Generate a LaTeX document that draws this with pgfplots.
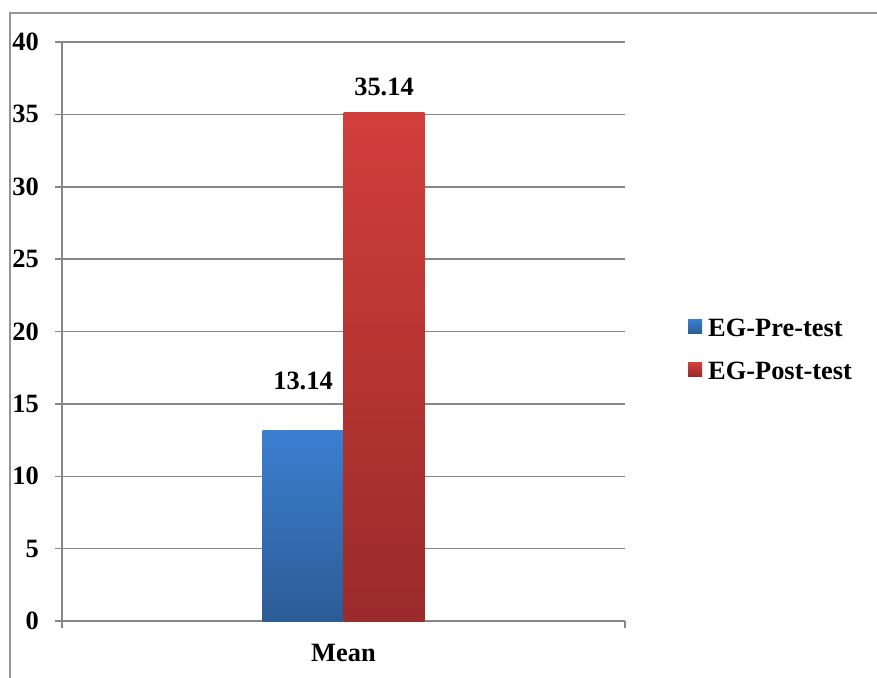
\documentclass[border=0pt]{standalone}
\usepackage{fontspec}
\setmainfont{Liberation Serif}
\usepackage{pgfplots}
\pgfplotsset{compat=1.18}
\pgfkeys{/pgf/number format/assume math mode=true}

\definecolor{gridgray}{RGB}{134,134,134}
\definecolor{framegray}{RGB}{150,150,150}
\definecolor{blueTop}{RGB}{59,127,208}
\definecolor{blueBot}{RGB}{44,92,150}
\definecolor{redTop}{RGB}{210,62,59}
\definecolor{redBot}{RGB}{153,43,42}

\newcommand{\chartfont}{\bfseries\fontsize{26.5}{30}\selectfont}

\begin{document}
\begin{tikzpicture}[x=1bp,y=1bp]
\useasboundingbox (0,0) rectangle (877,-678);
% outer frame (top and left edges)
\draw[framegray, line width=1.4bp] (877,-13) -- (10,-13) -- (10,-678);
\begin{axis}[
  at={(62bp,-621bp)}, anchor=south west,
  scale only axis, width=563bp, height=579bp,
  xmin=-1, xmax=1, ymin=0, ymax=40,
  ybar=0pt, bar width=81bp,
  ytick={0,5,...,40},
  xtick={-1,1}, xticklabels={},
  axis lines*=left,
  axis line style={gridgray, line width=1.5bp},
  ymajorgrids, grid style={gridgray, line width=1.5bp},
  tick align=outside, major tick length=7bp,
  tick style={gridgray, line width=1.5bp},
  yticklabel style={font=\chartfont, anchor=east, inner sep=0pt, xshift=-16bp},
  xlabel={Mean},
  xlabel style={at={(axis description cs:0.5,0)}, anchor=base, inner sep=0pt,
                yshift=-40bp, font=\chartfont},
  nodes near coords={\pgfmathprintnumber[fixed,precision=2,zerofill]{\pgfplotspointmeta}},
  every node near coord/.append style={font=\chartfont, anchor=base, inner sep=0pt, text=black},
  legend image code/.code={\fill[#1] (0bp,-5bp) rectangle (14bp,9bp);},
  legend cell align=left,
  legend style={draw=none, fill=none, inner sep=0pt, font=\chartfont,
                at={(rel axis cs:1.1119,0.522)}, anchor=north west,
                nodes={inner sep=0pt}, column sep=6bp, row sep=24bp},
]
\addplot[draw=none, top color=blueTop, bottom color=blueBot,
  every node near coord/.append style={yshift=41bp}]
  coordinates {(0,13.14)};
\addplot[draw=none, top color=redTop, bottom color=redBot,
  every node near coord/.append style={yshift=17bp}]
  coordinates {(0,35.14)};
\legend{EG-Pre-test, EG-Post-test}
\end{axis}
\end{tikzpicture}
\end{document}
